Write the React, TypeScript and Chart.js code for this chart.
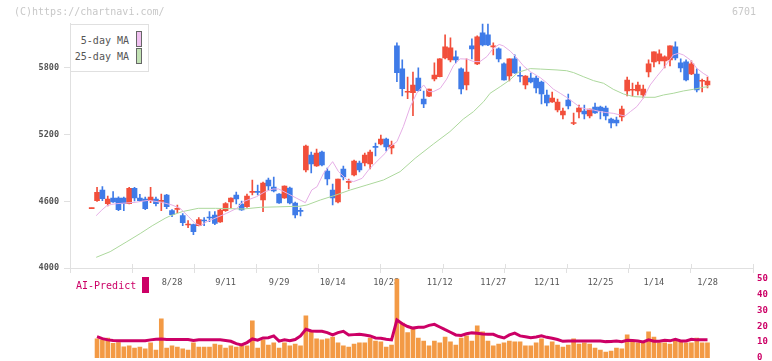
import React, { useEffect, useRef } from "react";
import { Chart, registerables } from "chart.js";

Chart.register(...registerables);

// ---- data ----
const dateLabels = ["8/28", "9/11", "9/29", "10/14", "10/28", "11/12", "11/27", "12/11", "12/25", "1/14", "1/28"];
const dateLabelIdx = [15, 25, 35, 45, 55, 65, 75, 85, 95, 105, 115];

const opens = [4534, 4606, 4702, 4579, 4630, 4630, 4630, 4579, 4717, 4630, 4621, 4606, 4621, 4600, 4657, 4516, 4528, 4471, 4387, 4390, 4381, 4429, 4456, 4477, 4414, 4516, 4594, 4657, 4576, 4552, 4681, 4690, 4612, 4792, 4729, 4666, 4630, 4720, 4585, 4516, 4882, 5017, 4918, 5044, 4873, 4702, 4594, 4891, 4771, 4837, 4945, 4945, 4936, 5092, 5116, 5161, 5080, 5998, 5791, 5581, 5578, 5710, 5521, 5545, 5701, 5722, 5890, 5872, 5899, 5791, 5647, 5998, 5836, 6115, 6097, 5989, 5971, 5836, 5728, 5881, 5731, 5647, 5710, 5710, 5674, 5557, 5494, 5422, 5377, 5512, 5300, 5404, 5413, 5368, 5449, 5449, 5440, 5341, 5332, 5359, 5593, 5599, 5593, 5557, 5764, 5854, 5863, 5863, 5872, 5989, 5845, 5854, 5746, 5746, 5680, 5647];
const highs = [4540, 4726, 4732, 4648, 4687, 4640, 4639, 4726, 4726, 4663, 4639, 4726, 4639, 4666, 4663, 4525, 4567, 4489, 4426, 4395, 4453, 4453, 4507, 4507, 4531, 4588, 4632, 4684, 4603, 4666, 4792, 4747, 4774, 4810, 4819, 4670, 4740, 4729, 4594, 4540, 5107, 5044, 5071, 5053, 4900, 4756, 4801, 4918, 4801, 4972, 4963, 5035, 5062, 5125, 5197, 5170, 5143, 6025, 5872, 5719, 5764, 5800, 5593, 5611, 5845, 5884, 6097, 6070, 5953, 5800, 5881, 6061, 6088, 6196, 6196, 6025, 5980, 5845, 5881, 5917, 5809, 5731, 5755, 5728, 5683, 5602, 5584, 5521, 5440, 5566, 5395, 5467, 5467, 5431, 5485, 5458, 5458, 5350, 5359, 5458, 5719, 5665, 5674, 5647, 5872, 5944, 5962, 5908, 5998, 6034, 5881, 5872, 5863, 5791, 5701, 5719];
const lows = [4534, 4600, 4606, 4558, 4590, 4516, 4516, 4576, 4603, 4600, 4525, 4588, 4558, 4516, 4534, 4462, 4498, 4381, 4363, 4300, 4378, 4381, 4417, 4390, 4411, 4510, 4540, 4576, 4519, 4546, 4657, 4657, 4507, 4702, 4684, 4580, 4627, 4576, 4450, 4468, 4864, 4855, 4915, 4918, 4747, 4567, 4585, 4792, 4711, 4828, 4864, 4918, 4891, 5008, 5107, 5053, 5026, 5677, 5548, 5524, 5371, 5590, 5443, 5542, 5683, 5720, 5881, 5854, 5845, 5566, 5602, 5881, 5830, 5998, 6000, 5917, 5854, 5690, 5683, 5750, 5674, 5611, 5665, 5575, 5476, 5458, 5490, 5404, 5341, 5431, 5290, 5350, 5341, 5350, 5390, 5341, 5332, 5260, 5278, 5323, 5548, 5548, 5557, 5530, 5719, 5809, 5836, 5800, 5818, 5872, 5764, 5683, 5740, 5584, 5584, 5620];
const closes = [4540, 4681, 4624, 4621, 4594, 4525, 4582, 4717, 4630, 4606, 4534, 4639, 4579, 4606, 4552, 4480, 4537, 4408, 4393, 4327, 4435, 4423, 4450, 4402, 4522, 4579, 4630, 4621, 4522, 4648, 4687, 4681, 4765, 4738, 4693, 4585, 4738, 4585, 4477, 4510, 5098, 4936, 5035, 4927, 4801, 4630, 4801, 4819, 4777, 4963, 4882, 5017, 5044, 5086, 5161, 5089, 5107, 5758, 5614, 5587, 5647, 5596, 5476, 5611, 5737, 5881, 5989, 5980, 5872, 5611, 5764, 5971, 6079, 6007, 6007, 5995, 5881, 5692, 5881, 5755, 5725, 5728, 5674, 5620, 5566, 5485, 5530, 5494, 5413, 5458, 5308, 5440, 5386, 5431, 5395, 5413, 5368, 5305, 5305, 5431, 5692, 5605, 5647, 5611, 5836, 5944, 5926, 5899, 5998, 5890, 5800, 5692, 5836, 5602, 5686, 5683];

const ma5X = [0.84, 1.9, 2.84, 3.77, 4.7, 8.1, 10.6, 13.1, 15, 16.5, 18.1, 19.3, 20.3, 21.5, 22.7, 25.2, 27.1, 28.3, 30.8, 32.4, 33.9, 34.9, 36.5, 38.3, 39.9, 41.1, 42.1, 43.3, 45, 46.1, 47.7, 48.9, 50.5, 51.7, 52.9, 54.8, 55.7, 57, 58.2, 59.5, 60.7, 62, 62.9, 63.8, 65.1, 66.3, 67.6, 68.8, 70.1, 71.3, 72.5, 73.8, 75, 76.1, 76.9, 78.2, 79.4, 80.6, 81.9, 83.8, 85, 86.2, 87.5, 88.7, 90, 91.2, 92.5, 93.7, 95, 96.2, 97.4, 98.7, 99.6, 100.6, 101.8, 103, 104.3, 105.5, 106.8, 107.7, 108.6, 109.6, 110.5, 111.8, 113, 114.2, 115.2];
const ma5Y = [4471, 4522, 4561, 4573, 4579, 4591, 4609, 4591, 4567, 4537, 4462, 4402, 4381, 4417, 4441, 4492, 4537, 4597, 4642, 4687, 4711, 4711, 4672, 4627, 4588, 4702, 4732, 4852, 4957, 4867, 4792, 4777, 4807, 4882, 4942, 5032, 5092, 5137, 5272, 5452, 5572, 5647, 5587, 5587, 5617, 5700, 5825, 5882, 5880, 5858, 5857, 5902, 5977, 6012, 5998, 5950, 5890, 5820, 5767, 5712, 5665, 5610, 5572, 5535, 5490, 5446, 5428, 5422, 5407, 5398, 5392, 5377, 5368, 5407, 5452, 5527, 5647, 5722, 5797, 5857, 5917, 5932, 5917, 5872, 5797, 5752, 5722];

const ma25X = [0.84, 3.45, 6.57, 9.06, 11.3, 13.7, 14.7, 16.9, 19.9, 23.1, 28.3, 31.5, 34.6, 38.9, 40.2, 42.7, 45.2, 48.3, 51.4, 54.5, 57.6, 60.4, 63.8, 66.9, 69.4, 71.3, 73.2, 74.4, 76.3, 78.1, 79.6, 81.9, 83.8, 86.9, 88.7, 90, 91.8, 93.7, 95.6, 97.4, 99.3, 101.2, 103.7, 105.2, 106.8, 108.6, 110.5, 112.4, 114.2, 115.2];
const ma25Y = [4096, 4147, 4237, 4310, 4380, 4447, 4470, 4507, 4537, 4537, 4531, 4546, 4550, 4556, 4567, 4612, 4650, 4702, 4747, 4792, 4867, 4987, 5115, 5227, 5340, 5407, 5497, 5572, 5632, 5692, 5760, 5794, 5790, 5782, 5775, 5758, 5722, 5686, 5662, 5608, 5566, 5542, 5536, 5536, 5557, 5572, 5593, 5608, 5626, 5632];

const volumes = [null, 12.0, 11.4, 12.6, 9.3, 9.7, 7.1, 7.6, 6.3, 6.9, 5.7, 9.5, 5.0, 24.6, 6.3, 7.6, 6.9, 5.7, 5.0, 9.5, 6.9, 6.9, 6.9, 8.8, 8.2, 6.3, 7.6, 6.9, 7.6, 7.6, 23.3, 6.3, 11.4, 8.2, 9.5, 6.3, 9.5, 7.6, 8.8, 7.6, 26.5, 16.4, 12.0, 11.4, 12.0, 13.2, 9.5, 7.6, 6.9, 8.8, 9.5, 9.5, 12.6, 10.7, 10.1, 6.9, 8.2, 49.8, 21.9, 16.0, 18.1, 12.6, 10.7, 7.6, 10.7, 9.5, 13.2, 10.1, 8.2, 12.6, 13.9, 10.7, 20.2, 16.4, 10.7, 7.6, 8.8, 9.5, 10.7, 10.1, 10.1, 7.6, 7.6, 9.5, 12.0, 7.6, 10.1, 8.2, 6.9, 8.2, 12.0, 8.8, 9.5, 8.8, 6.3, 5.0, 3.8, 4.4, 6.3, 5.7, 14.5, 10.1, 9.5, 9.5, 16.4, 13.2, 9.5, 9.5, 8.8, 10.7, 10.1, 9.5, 9.5, 12.6, 9.5, 9.5];

const aiPredict = [null, 13.4, 12.2, 11.4, 11.0, 10.8, 10.8, 10.8, 10.8, 10.8, 10.8, 11.4, 11.8, 12.0, 11.6, 11.6, 11.6, 11.6, 11.6, 11.0, 11.4, 11.4, 11.4, 11.4, 11.4, 11.0, 10.5, 9.0, 8.2, 9.7, 12.0, 11.2, 12.6, 12.8, 13.9, 10.6, 11.4, 10.8, 11.6, 13.9, 18.1, 17.0, 16.8, 16.8, 16.0, 14.6, 16.0, 16.8, 14.5, 14.7, 14.9, 14.5, 13.9, 12.6, 12.4, 11.8, 11.4, 23.9, 21.5, 19.8, 18.8, 19.3, 19.3, 20.5, 21.2, 19.5, 17.8, 16.2, 14.5, 14.2, 15.2, 15.8, 15.6, 15.1, 15.0, 14.9, 13.5, 12.6, 14.5, 15.6, 13.9, 13.4, 12.8, 13.2, 13.9, 13.0, 12.4, 11.6, 10.5, 10.7, 10.7, 10.7, 10.7, 10.7, 10.7, 10.7, 10.3, 10.4, 10.7, 10.3, 11.2, 11.0, 10.7, 10.1, 11.4, 10.5, 10.6, 11.2, 10.8, 11.8, 10.7, 10.7, 11.8, 11.4, 11.4, 11.4];

const priceTicks = [4000, 4600, 5200, 5800];
const volumeTicks = [0, 10, 20, 30, 40, 50];

// ---- styles ----
const UP = "#f24f3b";
const DOWN = "#3f7be8";
const MA5_COLOR = "#e6aee6";
const MA25_COLOR = "#acd89c";
const VOL_COLOR = "#f39a45";
const AI_COLOR = "#cc0066";
const AXIS = "#e0e0e0";
const MONO = '"DejaVu Sans Mono", "Liberation Mono", monospace';
const X_MIN = -4.05;
const X_MAX = 123.5;

const zeroPad = (s: any) => {
  s.paddingLeft = 0;
  s.paddingRight = 0;
  s.paddingTop = 0;
  s.paddingBottom = 0;
};

// short tick marks that also reach a little into the plot above the x axis
const innerTicks = {
  id: "innerTicks",
  afterDraw(chart: any) {
    const sc = chart.scales.x;
    if (!sc) return;
    const ctx = chart.ctx;
    const bottom = chart.chartArea.bottom;
    ctx.save();
    ctx.strokeStyle = AXIS;
    ctx.lineWidth = 1;
    ctx.beginPath();
    sc.ticks.forEach((t: any) => {
      const px = Math.round(sc.getPixelForValue(t.value)) + 0.5;
      ctx.moveTo(px, bottom - 4);
      ctx.lineTo(px, bottom);
    });
    ctx.stroke();
    ctx.restore();
  },
};

export default function App() {
  const priceRef = useRef<HTMLCanvasElement | null>(null);
  const volRef = useRef<HTMLCanvasElement | null>(null);

  useEffect(() => {
    const colors = opens.map((o, i) => (closes[i] >= o ? UP : DOWN));
    const priceChart = new Chart(priceRef.current as HTMLCanvasElement, {
      type: "bar",
      data: {
        datasets: [
          {
            type: "line",
            label: "5-day MA",
            data: ma5X.map((x, i) => ({ x, y: ma5Y[i] })),
            borderColor: MA5_COLOR,
            borderWidth: 1,
            pointRadius: 0,
            tension: 0,
            order: 1,
          } as any,
          {
            type: "line",
            label: "25-day MA",
            data: ma25X.map((x, i) => ({ x, y: ma25Y[i] })),
            borderColor: MA25_COLOR,
            borderWidth: 1,
            pointRadius: 0,
            tension: 0,
            order: 1,
          } as any,
          {
            type: "bar",
            label: "body",
            data: opens.map((o, i) => ({ x: i, y: [o, closes[i]] })),
            backgroundColor: colors,
            borderWidth: 0,
            barThickness: 5,
            minBarLength: 1,
            grouped: false,
            order: 2,
          } as any,
          {
            type: "bar",
            label: "wick",
            data: lows.map((l, i) => ({ x: i, y: [l, highs[i]] })),
            backgroundColor: colors,
            borderWidth: 0,
            barThickness: 1,
            grouped: false,
            order: 3,
          } as any,
        ],
      },
      plugins: [innerTicks],
      options: {
        animation: false,
        responsive: false,
        maintainAspectRatio: false,
        layout: { padding: { left: 0, right: 19, top: 23.5, bottom: 0 } },
        plugins: { legend: { display: false }, tooltip: { enabled: false } },
        scales: {
          x: {
            type: "linear",
            position: "bottom",
            min: X_MIN,
            max: X_MAX,
            offset: false,
            weight: 0,
            afterBuildTicks: (s: any) => {
              const n = 11;
              s.ticks = Array.from({ length: n + 1 }, (_, i) => ({ value: X_MIN + (i * (X_MAX - X_MIN)) / n }));
            },
            ticks: { display: false },
            grid: { drawOnChartArea: false, tickLength: 5, color: AXIS, offset: false },
            border: { color: AXIS },
            afterFit: (s: any) => {
              s.height = 5;
              zeroPad(s);
            },
          },
          xd: {
            type: "linear",
            position: "bottom",
            min: X_MIN,
            max: X_MAX,
            offset: false,
            weight: 1,
            afterBuildTicks: (s: any) => {
              s.ticks = dateLabelIdx.map((v) => ({ value: v }));
            },
            ticks: {
              autoSkip: false,
              maxRotation: 0,
              padding: 5,
              color: "#555",
              font: { family: MONO, size: 8.6 },
              callback: (_v: any, i: number) => dateLabels[i],
            },
            grid: { display: false, drawTicks: false },
            border: { display: false },
            afterFit: (s: any) => {
              s.height = 88;
              zeroPad(s);
            },
          },
          y: {
            type: "linear",
            position: "left",
            min: 4000,
            max: 6200,
            afterBuildTicks: (s: any) => {
              s.ticks = priceTicks.map((v) => ({ value: v }));
            },
            ticks: {
              padding: 5,
              color: "#555",
              font: { family: MONO, size: 8.5, weight: "bold" },
              callback: (v: any) => String(v),
            },
            grid: { drawOnChartArea: false, tickLength: 6, color: AXIS },
            border: { color: AXIS },
            afterFit: (s: any) => {
              s.width = 70;
              zeroPad(s);
            },
          },
        },
      } as any,
    });

    const volChart = new Chart(volRef.current as HTMLCanvasElement, {
      type: "bar",
      data: {
        datasets: [
          {
            type: "line",
            label: "AI-Predict",
            data: aiPredict.map((v, i) => ({ x: i, y: v })).filter((p) => p.y !== null),
            borderColor: AI_COLOR,
            borderWidth: 3,
            pointRadius: 0,
            tension: 0,
            order: 1,
          } as any,
          {
            type: "bar",
            label: "volume",
            data: volumes.map((v, i) => ({ x: i, y: v })).filter((p) => p.y !== null),
            backgroundColor: VOL_COLOR,
            borderWidth: 0,
            barThickness: 4,
            grouped: false,
            order: 2,
          } as any,
        ],
      },
      options: {
        animation: false,
        responsive: false,
        maintainAspectRatio: false,
        layout: { padding: { left: 70, right: 0, top: 278.5, bottom: 3 } },
        plugins: { legend: { display: false }, tooltip: { enabled: false } },
        scales: {
          x: { type: "linear", min: X_MIN, max: X_MAX, offset: false, display: false },
          y: {
            type: "linear",
            position: "right",
            min: 0,
            max: 50,
            afterBuildTicks: (s: any) => {
              s.ticks = volumeTicks.map((v) => ({ value: v }));
            },
            ticks: {
              padding: 4,
              color: AI_COLOR,
              font: { family: MONO, size: 9, weight: "bold" },
              callback: (v: any) => String(v),
            },
            grid: { display: false, drawTicks: false },
            border: { display: false },
            afterFit: (s: any) => {
              s.width = 19;
              zeroPad(s);
            },
          },
        },
      } as any,
    });

    return () => {
      priceChart.destroy();
      volChart.destroy();
    };
  }, []);

  const abs: React.CSSProperties = { position: "absolute" };
  const textStyle: React.CSSProperties = {
    ...abs,
    fontFamily: MONO,
    fontSize: 10,
    lineHeight: "12px",
    whiteSpace: "nowrap",
  };

  return (
    <div style={{ position: "absolute", left: 0, top: 0, width: 772, height: 361, background: "#fff", overflow: "hidden" }}>
      <canvas ref={priceRef} width={772} height={361} style={{ ...abs, left: 0, top: 0 }} />
      <canvas ref={volRef} width={772} height={361} style={{ ...abs, left: 0, top: 0, pointerEvents: "none" }} />
      <div style={{ ...textStyle, left: 14, top: 6, color: "#c8c8c8" }}>(C)https://chartnavi.com/</div>
      <div style={{ ...textStyle, left: 732, top: 6, color: "#c8c8c8" }}>6701</div>
      <div style={{ ...abs, left: 70, top: 24, width: 77, height: 46, border: "1px solid #e0e0e0", background: "#fff" }}>
        <div style={{ ...textStyle, left: 0, top: 10, width: 58, textAlign: "right", color: "#555" }}>5-day MA</div>
        <div style={{ ...abs, left: 65, top: 6, width: 6, height: 16, boxSizing: "border-box", border: "1px solid #666", background: "#f0c0f0" }} />
        <div style={{ ...textStyle, left: 0, top: 26, width: 58, textAlign: "right", color: "#555" }}>25-day MA</div>
        <div style={{ ...abs, left: 65, top: 23, width: 6, height: 16, boxSizing: "border-box", border: "1px solid #666", background: "#c2e2b4" }} />
      </div>
      <div style={{ ...textStyle, left: 76, top: 280, color: AI_COLOR }}>AI-Predict</div>
      <div style={{ ...abs, left: 142, top: 277, width: 7, height: 16, background: AI_COLOR }} />
    </div>
  );
}
